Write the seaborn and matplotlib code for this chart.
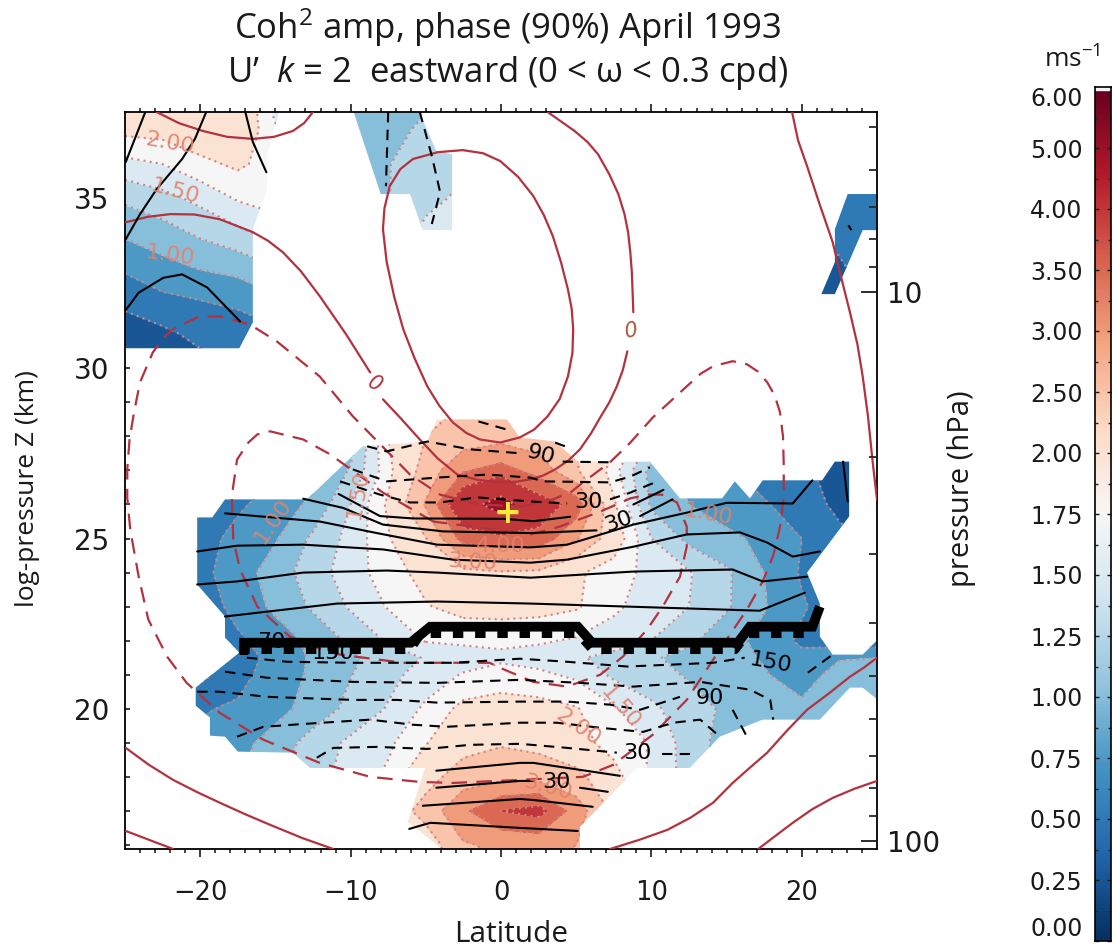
import numpy as np
import seaborn as sns
import matplotlib
matplotlib.use('Agg')
import matplotlib.pyplot as plt
from matplotlib.path import Path
from matplotlib.patches import PathPatch

sns.set_theme(style='ticks')
plt.rcParams['font.family'] = ['DejaVu Sans']
plt.rcParams['mathtext.fontset'] = 'custom'
plt.rcParams['mathtext.rm'] = 'Open Sans'
plt.rcParams['mathtext.it'] = 'Open Sans:italic'
plt.rcParams['mathtext.default'] = 'regular'
plt.rcParams['text.color'] = '#1a1a1a'

## DATA ##
levels = [0, .25, .5, .75, 1, 1.25, 1.5, 1.75, 2, 2.5, 3, 3.5, 4, 5, 6]
bar_labels = ['0.00', '0.25', '0.50', '0.75', '1.00', '1.25', '1.50', '1.75',
              '2.00', '2.50', '3.00', '3.50', '4.00', '5.00', '6.00']
lat_grid = [-25, -22.5, -20, -17.5, -15, -12.5, -10, -7.5, -5, -2.5, 0, 2.5, 5, 7.5, 10, 12.5, 15, 17.5, 20, 22.5, 25]
z_grid = [15, 16, 17, 18, 19, 20, 21, 21.5, 22, 23, 24, 25, 26, 27, 28, 29, 30, 31, 32, 33, 34, 35, 36, 37, 38]
# amplitude (m/s), one row per z_grid entry
amp = [
    [.6, .6, .6, .7, .8, 1.0, 1.2, 1.9, 2.1, 2.8, 2.9, 2.95, 2.8, 2.4, 2.0, 1.6, 1.3, 1.1, 1, 1, 1],
    [.6, .6, .6, .7, .8, 1.0, 1.2, 2.0, 2.2, 2.95, 3.1, 3.15, 3.0, 2.5, 2.0, 1.6, 1.3, 1.1, 1, 1, 1],
    [.6, .6, .7, .8, .9, 1.2, 1.7, 2.15, 2.7, 3.4, 4.0, 4.2, 3.25, 2.4, 2.0, 1.6, 1.3, 1.1, 1, 1, 1],
    [.7, .7, .9, 1.0, 1.2, 1.4, 1.6, 1.8, 2.3, 2.75, 2.85, 2.82, 2.65, 2.1, 1.7, 1.4, 1.2, 1.05, 1, 1, 1],
    [.7, .75, .8, .92, 1.1, 1.36, 1.55, 1.7, 1.98, 2.3, 2.45, 2.35, 2.1, 1.9, 1.73, 1.37, 1.15, 1.05, 1, 1, 1],
    [.7, .72, .73, .78, .92, 1.1, 1.32, 1.52, 1.8, 2.08, 2.13, 2.1, 2.02, 1.78, 1.55, 1.37, 1.2, 1.1, 1.06, 1.1, 1.1],
    [.4, .4, .42, .68, .85, 1.05, 1.24, 1.43, 1.6, 1.77, 1.85, 1.8, 1.7, 1.45, 1.35, 1.22, 1.12, 1.02, .88, 1.1, 1.15],
    [.4, .4, .42, .65, .82, 1.04, 1.2, 1.37, 1.52, 1.62, 1.7, 1.65, 1.53, 1.42, 1.28, 1.17, 1.08, .98, .82, .98, 1.0],
    [.45, .45, .5, .7, .88, 1.06, 1.3, 1.53, 1.77, 1.8, 1.8, 1.78, 1.72, 1.62, 1.5, 1.3, 1.1, .92, .7, .6, .6],
    [.45, .5, .58, .85, 1.05, 1.29, 1.53, 1.77, 1.98, 2.1, 2.12, 2.1, 2.03, 1.8, 1.62, 1.5, 1.28, 1.02, .78, .6, .5],
    [.45, .5, .68, .88, 1.12, 1.38, 1.63, 1.88, 2.1, 2.35, 2.45, 2.4, 2.05, 1.85, 1.68, 1.52, 1.29, 1.0, .72, .55, .45],
    [.4, .5, .62, .85, .98, 1.3, 1.58, 1.97, 2.48, 3.7, 3.85, 3.85, 3.05, 2.2, 1.5, 1.18, 1.05, .95, .75, .55, .45],
    [.35, .4, .5, .7, .88, 1.05, 1.5, 2.05, 3.05, 4.6, 5.4, 4.3, 3.8, 2.05, 1.2, 1.0, .9, .78, .6, .45, .4],
    [.3, .35, .4, .5, .7, .9, 1.28, 1.9, 2.7, 3.45, 3.7, 3.3, 2.55, 1.85, 1.15, .95, .8, .6, .55, .4, .35],
    [.2, .3, .3, .4, .5, .7, 1.1, 2.0, 2.5, 2.7, 2.8, 2.7, 2.5, 2.1, 1.5, 1.1, .7, .5, .4, .3, .3],
    [.1, .15, .3, .4, .5, .7, 1, 1.6, 2.3, 2.5, 2.6, 2.5, 2.2, 1.7, 1.2, .9, .6, .5, .4, .3, .3],
    [.15, .2, .4, .5, .55, .7, .9, 1, 1.2, 1.3, 1.3, 1.2, 1.1, 1, .9, .8, .6, .5, .4, .4, .4],
    [.35, .44, .57, .62, .68, .8, .9, 1, 1.1, 1.2, 1.2, 1.1, 1, .9, .8, .7, .6, .5, .4, .42, .45],
    [.57, .69, .75, .8, .95, 1, 1, 1, 1.1, 1.2, 1.2, 1.1, 1, .9, .8, .7, .6, .5, .4, .45, .55],
    [.8, .93, 1.03, 1.1, 1.25, 1.2, 1.05, 1.2, 1.4, 1.5, 1.5, 1.2, 1, .9, .8, .7, .6, .5, .42, .48, .6],
    [1.05, 1.15, 1.3, 1.44, 1.62, 1.4, 1.05, 1.3, 1.56, 1.65, 1.6, 1.3, 1, .9, .8, .7, .6, .55, .45, .55, .62],
    [1.3, 1.42, 1.57, 1.78, 1.85, 1.5, 1.08, 1.24, 1.43, 1.55, 1.5, 1.3, 1, .9, .8, .7, .6, .55, .5, .58, .65],
    [1.67, 1.75, 1.93, 2.05, 1.88, 1.5, 1.1, 1.24, 1.38, 1.45, 1.4, 1.3, 1, .9, .8, .7, .6, .55, .5, .58, .65],
    [2.07, 2.1, 2.2, 2.25, 1.8, 1.4, 1.12, 1.17, 1.3, 1.4, 1.3, 1.2, 1, .9, .8, .7, .6, .55, .5, .58, .65],
    [2.3, 2.35, 2.4, 2.4, 1.55, 1.2, 1.12, 1.1, 1.2, 1.3, 1.2, 1.1, 1, .9, .8, .7, .6, .55, .5, .58, .65],
]

# where coherence passes 90% (lat, z)
region_main = [(-20.2, 25.62), (-19.2, 25.62), (-18.35, 26.15), (-12.9, 26.15), (-9.2, 27.71), (-4.9, 27.85),
               (-4.25, 28.5), (.4, 28.5), (1.25, 27.97), (3.6, 27.85), (5.1, 27.26), (9.9, 27.26), (11.9, 26.18),
               (14.7, 26.18), (15.55, 26.68), (16.55, 26.18), (17.4, 26.71), (21.35, 26.71), (22.2, 27.26),
               (23.15, 27.26), (23.15, 25.65), (20.35, 24.0), (21.2, 23.09), (21.2, 22.12), (22.05, 21.59),
               (24.05, 21.59), (25.05, 22.03), (25.05, 20.26), (24.05, 20.62), (23.2, 20.62), (21.2, 19.68),
               (17.4, 19.68), (14.55, 19.18), (12.55, 18.26), (9.05, 18.26), (5.25, 16.53), (5.25, 15.85),
               (-3.85, 15.85), (-6.2, 16.68), (-5.05, 18.26), (-12.7, 18.26), (-13.85, 18.71), (-17.5, 18.74),
               (-18.35, 19.18), (-19.35, 19.21), (-19.35, 19.74), (-20.3, 20.09), (-20.3, 20.62), (-17.4, 21.65),
               (-18.35, 22.09), (-18.35, 22.71), (-20.2, 23.65)]
region_left = [(-25.05, 37.6), (-14.7, 37.6), (-15.55, 36.24), (-15.55, 35.26), (-16.5, 34.09), (-16.5, 31.35),
               (-17.4, 30.59), (-25.05, 30.59)]
region_top = [(-9.85, 37.6), (-8, 35.12), (-6.05, 35.12), (-5.2, 34.06), (-3.25, 34.06), (-3.25, 36.29),
              (-4.3, 36.38), (-5.5, 37.6)]
region_right = [(23.05, 35.12), (25.05, 35.12), (25.05, 34.06), (24.05, 34.06), (22.2, 32.18), (21.3, 32.18),
                (22.2, 33.12), (22.2, 34.09)]

# phase lines, solid
s1a = [(-10.8, 26.31), (-8.05, 25.66), (-5.85, 25.59), (.15, 25.58), (2.15, 25.51), (4.6, 25.64)]
s1b = [(8.8, 26.0), (10.8, 26.43)]
s2a = [(-13.15, 26.17), (-10.5, 25.9), (-7.85, 25.41), (-3.85, 25.21), (1.95, 25.16), (6.35, 25.24)]
s2b = [(9.25, 25.66), (11.4, 26.15)]
s3 = [(-18.35, 25.74), (-12.05, 25.5), (-8.25, 25.16), (-4.25, 24.82), (1.95, 24.74), (4.4, 24.82), (8.8, 25.41),
      (12.35, 25.76), (15.0, 26.05), (19.4, 26.03), (20.7, 26.71)]
s4 = [(-20.2, 24.62), (-17.55, 24.79), (-13.15, 24.82), (-7.85, 24.68), (-3.2, 24.38), (1.95, 24.29), (4.4, 24.38),
      (8.8, 24.76), (12.35, 25.12), (15.9, 25.18), (17.7, 24.88), (19.4, 24.47), (21.2, 24.62)]
s5 = [(-20.2, 23.65), (-17.55, 23.74), (-13.15, 24.0), (-7.6, 24.06), (-4.25, 24.0), (1.95, 23.85), (8.8, 24.03),
      (15.4, 24.09), (17.4, 23.74), (20.35, 23.88)]
s6 = [(-18.35, 22.71), (-10.9, 23.09), (-4.25, 23.15), (1.95, 23.09), (17.2, 22.88), (20.2, 23.41)]
s7 = [(22.75, 27.26), (23.05, 26.09)]
t1 = [(-4.3, 18.18), (1.25, 18.41), (2.15, 18.41), (7.9, 18.03)]
t2a = [(-4.3, 17.68), (1.25, 17.88), (2.2, 17.88)]
t2b = [(5.25, 17.68), (7.1, 17.56)]
t3 = [(-5.2, 17.15), (1.25, 17.35), (2.15, 17.32), (6.1, 17.12)]
t4 = [(-6.1, 16.47), (-4.7, 16.65), (1.25, 16.5), (5.1, 16.41)]
u1 = [(-23.65, 37.53), (-24.95, 36.06)]
u2 = [(-19.6, 37.53), (-20.35, 36.74), (-21.2, 36.15), (-22.9, 35.26), (-24, 34.53), (-24.95, 33.79)]
u3 = [(-17, 37.53), (-16.5, 36.65), (-15.6, 35.76)]
u4 = [(-24.95, 31.71), (-24.1, 32.22), (-22.45, 32.66), (-21.2, 32.76), (-19.55, 32.38), (-17.35, 31.38)]
phase_solid = [s1a, s1b, s2a, s2b, s3, s4, s5, s6, s7, t1, t2a, t2b, t3, t4, u1, u2, u3, u4]

# phase lines, dashed
d1 = [(-7.5, 37.53), (-7.65, 35.35)]
d2 = [(-5.4, 37.53), (-4.6, 36.24), (-4.05, 35.18), (-4.6, 34.24)]
d3 = [(23.1, 34.2), (23.3, 34.06)]
k0 = [(-1.5, 28.44), (.4, 28.2)]
k1 = [(-8.9, 27.71), (-7.6, 27.56), (-4.9, 27.85), (-2.05, 27.62), (1.4, 27.5)]
k1b = [(3.6, 27.82), (4.25, 27.71)]
k1c = [(4.1, 27.26), (7.25, 27.24)]
k2 = [(-9.85, 27.03), (-7.6, 26.68), (-4.25, 26.79), (-.9, 26.88), (1.95, 26.79), (2.8, 26.68), (7.25, 26.65),
      (8.6, 26.82), (9.9, 27.09)]
k3a = [(-10.7, 26.68), (-8.05, 26.29), (-6.05, 26.06), (-4.05, 26.06), (-1.6, 26.21), (1.95, 26.09), (4.4, 26.03)]
k3b = [(7.25, 26.15), (8.6, 26.35), (10.4, 26.68)]
m1 = [(-16.9, 21.5), (-14.2, 21.38), (-9.85, 21.35), (-6.5, 21.35), (-3.2, 21.35), (1.25, 21.47), (4.4, 21.38),
      (8.4, 21.24), (14.1, 21.35), (16.2, 21.5)]
m2 = [(-18.35, 21.09), (-15.55, 20.91), (-9.85, 20.79), (-4.25, 20.76), (1.25, 20.85), (5.25, 20.76), (8.8, 20.65),
      (13.25, 20.79), (16.55, 20.56), (17.9, 20.26), (18.1, 19.68)]
m3 = [(-20.2, 20.5), (-18.7, 20.5), (-15.55, 20.35), (-9.85, 20.26), (-6.9, 20.26), (-4.25, 20.18), (1.25, 20.21),
      (4.4, 20.21), (7.25, 20.12), (9.25, 19.97), (11.9, 20.35)]
m3b = [(15.4, 19.97), (16.35, 19.18)]
m4 = [(-17.55, 19.18), (-15.8, 19.47), (-12.9, 19.56), (-8.7, 19.68), (-5.85, 19.53), (-3.6, 19.47), (1.25, 19.59),
      (3.7, 19.59), (6.6, 19.44), (9.45, 19.32), (11.45, 19.59), (13.25, 19.68), (14.55, 19.18)]
m5 = [(-12.25, 18.56), (-11.15, 18.85), (-8.25, 18.88), (-4.9, 18.82), (-2.05, 18.94), (1.25, 18.97), (4.4, 18.85),
      (7.7, 18.71)]
m5b = [(10.7, 18.68), (12.75, 18.68)]
m6 = [(20.4, 21.06), (22.05, 21.59)]
phase_dashed = [d1, d2, d3, k0, k1, k1b, k1c, k2, k3a, k3b, m1, m2, m3, m3b, m4, m5, m5b, m6]

# the bunched up phase lines at the 180 wrap
band_top = [(-17.4, 21.94), (-6, 21.94), (-4.7, 22.41), (5.1, 22.41), (6.05, 21.94), (15.75, 21.94), (16.55, 22.41),
            (20.7, 22.41), (21.2, 23.0)]
band_teeth = [(-17.4, 21.71), (-6, 21.71), (-5.3, 22.18), (5.1, 22.18), (6.05, 21.71), (15.6, 21.71), (16.4, 22.18),
              (20.9, 22.18)]
band_end = [(-17.1, 22.03), (-17.1, 21.59)]

# background wind, solid
r1 = [(-7.85, 34.09), (-7.75, 34.7), (-7.4, 35.35), (-6.7, 35.85), (-5.85, 36.15), (-4.2, 36.35), (-2.55, 36.41),
      (-1.2, 36.32), (-.05, 36.09), (1.15, 35.62), (2.15, 35.06), (2.85, 34.5), (3.45, 33.88), (4.0, 33.1),
      (4.45, 32.32), (4.7, 31.75), (4.8, 31.15), (4.75, 30.45), (4.45, 29.76), (3.9, 29.1), (3.1, 28.59), (2.2, 28.2),
      (1.25, 27.97), (-.05, 27.82), (-1.4, 27.91), (-2.3, 28.1), (-3.2, 28.41), (-4.1, 28.9), (-4.9, 29.47),
      (-5.75, 30.3), (-6.5, 31.15), (-7.1, 32.1), (-7.6, 33.12), (-7.85, 34.09)]
r2a = [(3.1, 37.53), (4.0, 37.25), (4.9, 36.97), (5.75, 36.65), (6.45, 36.29), (7.2, 35.7), (7.8, 35.12), (8.2, 34.55),
       (8.45, 34.0), (8.6, 33.4), (8.7, 32.82), (8.8, 31.65)]
r2b = [(8.4, 30.5), (8.1, 29.95), (7.7, 29.47), (7.2, 29.0), (6.6, 28.56), (6.0, 28.1), (5.25, 27.62), (4.5, 27.3),
       (3.6, 27.03), (2.8, 26.85), (1.95, 26.74), (1, 26.67), (-.05, 26.65), (-1.5, 26.72), (-2.9, 26.88), (-4.2, 27.35),
       (-5.4, 27.91), (-6.6, 28.5), (-7.85, 29.09)]
r2c = [(-8.7, 29.88), (-10.3, 31.0), (-12.05, 32.12), (-13.3, 32.85), (-14.5, 33.41), (-15.5, 33.75), (-16.5, 34.0),
       (-18.7, 34.38), (-20.4, 34.52), (-22, 34.53), (-23.5, 34.45), (-24.95, 34.29)]
r2d = [(-22.9, 37.53), (-21.4, 37.2), (-19.8, 36.97), (-18.2, 36.8), (-16.5, 36.74), (-15.1, 36.8), (-13.85, 36.97),
       (-13.1, 37.2), (-12.5, 37.53)]
r3 = [(19.35, 37.53), (19.75, 36.7), (20.35, 35.94), (21.2, 34.8), (22.05, 33.71), (22.6, 32.7), (23.2, 31.65),
      (23.7, 30.7), (24.05, 29.76), (24.4, 28.59), (24.7, 27.3), (25, 26.15)]
r4 = [(25, 21.5), (24.1, 21.2), (23.2, 20.94), (21.8, 20.45), (20.35, 19.97), (19, 19.35), (17.7, 18.71), (16.5, 18.25),
      (15.4, 17.82), (14.1, 17.24), (12.6, 16.8), (11.05, 16.44), (9.2, 16.15), (7.25, 15.88)]
r5 = [(25, 17.88), (23.5, 17.65), (22.05, 17.38), (20.7, 17.05), (19.4, 16.65), (18.2, 16.25), (17.1, 15.88)]
r6 = [(-24.95, 18.85), (-23.4, 18.35), (-21.8, 17.91), (-20.2, 17.55), (-18.7, 17.24), (-17, 16.9), (-15.35, 16.59),
      (-13.2, 16.2), (-11.15, 15.88)]
r7 = [(-24.95, 16.41), (-21.8, 15.88)]
wind_solid = [r1, r2a, r2b, r2c, r2d, r3, r4, r5, r6, r7]

# background wind, dashed
r8 = [(1.45, 25.94), (3.45, 26.15), (4.7, 26.38), (5.45, 26.65), (7.25, 27.24), (8.6, 27.82), (10.1, 28.56),
      (12.35, 29.47), (13.3, 29.85), (14.1, 30.06), (15.4, 30.21), (16.35, 30.12), (17.1, 29.9), (17.7, 29.59),
      (18.2, 29.2), (18.55, 28.71), (18.75, 28), (18.8, 27.12), (18.8, 26.2), (18.55, 25.35), (18.1, 24.5),
      (17.4, 23.74), (16.35, 22.91), (14.55, 21.74), (12.35, 20.26), (10.1, 19.24), (7.45, 18.35),
      (5.45, 18.0), (1.25, 17.91), (-3.2, 17.82), (-5.4, 17.85), (-8.7, 18.0), (-12.05, 18.41), (-15.8, 19.09),
      (-18.7, 19.88), (-20.9, 20.76), (-22.2, 21.53), (-23.45, 22.62), (-24.1, 23.9), (-24.65, 25.26), (-24.85, 26.2),
      (-24.85, 27.03), (-24.7, 27.9), (-24.4, 28.71), (-24, 29.59), (-23.15, 30.47), (-22.35, 30.94), (-21.8, 31.15),
      (-20.2, 31.5), (-18.7, 31.53), (-16.7, 31.29), (-14.9, 30.79), (-12.05, 29.76), (-9.85, 28.59), (-6.05, 26.88),
      (-4.05, 26.29), (-1.4, 26.0), (1.45, 25.94)]
r9 = [(-4.5, 25.5), (-7.85, 26.35), (-11.35, 27.47), (-13.15, 27.91), (-15.35, 28.15), (-16.2, 28.06), (-16.8, 27.82),
      (-17.55, 27.32), (-17.9, 26.24), (-17.8, 24.97), (-17.35, 24.09), (-16.2, 23.0), (-14.05, 22.12), (-11.55, 21.68),
      (-10.7, 21.59), (-6.5, 21.35), (-3.2, 21.35), (-.75, 21.35), (-.05, 21.2), (2.15, 20.79), (4.4, 20.65), (6.6, 21.0),
      (8.1, 21.53), (9.7, 22.32), (10.75, 23.0), (11.9, 23.88), (12.35, 24.76), (12.35, 25.35), (11.7, 26.06),
      (10.7, 26.29), (9.7, 26.29), (8.6, 26.18), (6.6, 25.79), (3.9, 25.35), (1.95, 25.12), (-4.5, 25.5)]
wind_dashed = [r8, r9]

peak = (.4, 25.85)

# label, lat, z, rotation
amp_labels = [('2.00', -22, 36.6, -10), ('1.50', -21.7, 35.2, -15), ('1.00', -22, 33.3, -8), ('1.00', -15.2, 25.5, 55),
              ('1.50', -9.5, 26.3, 80), ('1.00', 13.75, 25.7, -10), ('3.00', -1.9, 24.3, -3), ('4.00', 0, 24.77, 0),
              ('1.50', 7.9, 20.06, -50), ('2.00', 5.1, 19.44, -35), ('3.00', 3.1, 17.68, -15)]
phase_labels = [('90', 2.65, 27.47, -15), ('30', 5.8, 26.06, 0), ('30', 7.8, 25.5, 20), ('150', 17.9, 21.35, -10),
                ('90', 13.9, 20.32, 0), ('30', 9.1, 18.7, 0), ('30', 3.7, 17.85, 0), ('70', -15.3, 21.97, 0),
                ('150', -11.2, 21.65, 0)]
wind_labels = [('0', 8.65, 31.1, 10, '#a8583a'), ('0', -8.4, 29.53, -30, '#b2323f')]

x_ticks = [-20, -10, 0, 10, 20]
y_ticks = [20, 25, 30, 35]
p_major = [10, 100]
p_minor = [5, 6, 7, 8, 9, 20, 30, 40, 50, 60, 70, 80, 90]

## PLOT ##
W, H = 1114, 949
fig = plt.figure(figsize=(W / 100, H / 100), dpi=100, facecolor='white')
ax = fig.add_axes([125 / W, 1 - 849 / H, 752 / W, 737 / H])
ax.set_facecolor('white')

cmap = sns.color_palette('RdBu_r', as_cmap=True)
n = len(levels) - 1
# each band takes the colour of its lower level
fill_colors = [cmap(i / n) for i in range(n)]
amp = np.array(amp)

# clip the fields to the significant regions
paths = []
for r in [region_main, region_left, region_top, region_right]:
    paths.append(Path(list(r) + [r[0]], closed=True))
clip_patch = PathPatch(Path.make_compound_path(*paths), transform=ax.transData, facecolor='none', edgecolor='none')
ax.add_patch(clip_patch)

filled = ax.contourf(lat_grid, z_grid, amp, levels=levels, colors=fill_colors, zorder=1)
filled.set_clip_path(clip_patch)
dots = ax.contour(lat_grid, z_grid, amp, levels=levels[2:], colors='#cf8585', linewidths=1.5,
                  linestyles=[(0, (1, 2))], zorder=2)
dots.set_clip_path(clip_patch)


def draw_line(pts, **kws):
    pts = np.array(pts)
    sns.lineplot(x=pts[:, 0], y=pts[:, 1], sort=False, estimator=None, ax=ax, legend=False, **kws)


for line in wind_solid:
    draw_line(line, color='#b2323f', linewidth=1.6, zorder=3)
for line in wind_dashed:
    draw_line(line, color='#b2323f', linewidth=1.6, linestyle=(0, (7, 4.2)), zorder=3)
for line in phase_solid:
    draw_line(line, color='black', linewidth=1.5, zorder=4)
for line in phase_dashed:
    draw_line(line, color='black', linewidth=1.5, linestyle=(0, (5, 3.5)), zorder=4)
draw_line(band_top, color='black', linewidth=7, solid_capstyle='butt', solid_joinstyle='miter', zorder=5)
draw_line(band_teeth, color='black', linewidth=5, linestyle=(0, (1.5, 1.7)), zorder=5)
draw_line(band_end, color='black', linewidth=6, solid_capstyle='butt', zorder=5)

ax.text(peak[0], peak[1], '+', color='#f7ea3c', fontsize=24, fontweight='bold', ha='center', va='center_baseline', zorder=6)

for txt, la, zz, rot in amp_labels:
    ax.text(la, zz, txt, color='#e0826e', fontsize=16, rotation=rot, ha='center', va='center', zorder=4, alpha=.9)
for txt, la, zz, rot in phase_labels:
    ax.text(la, zz, txt, color='black', fontsize=16, rotation=rot, ha='center', va='center', zorder=6)
for txt, la, zz, rot, col in wind_labels:
    ax.text(la, zz, txt, color=col, fontsize=15, rotation=rot, style='italic', ha='center', va='center', zorder=6)

ax.set_xlim(-25, 25)
ax.set_ylim(15.88, 37.53)
ax.set_xticks(x_ticks, [str(v).replace('-', '\u2212') for v in x_ticks])
ax.set_xticks(np.arange(-24, 25), minor=True)
ax.set_yticks(y_ticks)
ax.set_yticks(np.arange(16, 38), minor=True)
ax.tick_params(axis='x', which='major', direction='out', length=6, width=1.2, top=True, labelsize=18.5, pad=16, colors='#1a1a1a')
ax.tick_params(axis='x', which='minor', direction='out', length=3, width=1.2, top=True)
ax.tick_params(axis='y', which='major', direction='in', length=3.5, width=1.2, right=False, labelsize=20, pad=11, colors='#1a1a1a')
ax.tick_params(axis='y', which='minor', direction='in', length=3.5, width=1.2, right=False)
for sp in ax.spines.values():
    sp.set_linewidth(1.3)
    sp.set_color('black')
    sp.set_visible(True)
fig.text(511 / W, 1 - 935 / H, 'Latitude', fontfamily='Open Sans', fontsize=21.5, ha='center', va='center')
fig.text(28 / W, 1 - 489 / H, 'log-pressure Z (km)', rotation=90, fontfamily='Open Sans', fontsize=19, ha='center', va='center')

# pressure axis, scale height 7 km
ax2 = ax.twinx()
ax2.set_ylim(ax.get_ylim())
ax2.set_yticks([7 * np.log(1000 / p) for p in p_major], [str(p) for p in p_major])
ax2.set_yticks([7 * np.log(1000 / p) for p in p_minor], minor=True)
ax2.tick_params(axis='y', which='major', direction='in', length=11.5, width=1.3, labelsize=20, pad=7, colors='#1a1a1a')
ax2.tick_params(axis='y', which='minor', direction='in', length=6, width=1.3)
for sp in ax2.spines.values():
    sp.set_visible(False)
ax2.grid(False)
fig.text(961 / W, 1 - 489 / H, 'pressure (hPa)', rotation=90, fontfamily='Open Sans', fontsize=21, ha='center', va='center')

fig.text(508 / W, 1 - 28 / H, 'Coh$^{2}$ amp, phase (90%) April 1993', fontfamily='Open Sans', fontsize=25, ha='center', va='center')
fig.text(508 / W, 1 - 73 / H, 'U\u2019  $\\mathit{k}$ = 2  eastward (0 < \u03c9 < 0.3 cpd)', fontfamily='Open Sans', fontsize=25, ha='center', va='center')

# colour bar with evenly spaced levels
cax = fig.add_axes([1095 / W, 1 - 941 / H, 16 / W, 854 / H])
gradient = np.linspace(0, 1, 256)[:, None]
cax.imshow(gradient, cmap=cmap, origin='lower', aspect='auto', extent=[0, 1, 0, n])
cax.axhspan(n - .05, n, color='#f2f2f2', zorder=2)
cax.set_xticks([])
cax.set_yticks(range(n + 1), bar_labels)
cax.set_yticks(np.arange(.5, n), minor=True)
cax.tick_params(axis='y', which='major', direction='in', left=True, right=True, length=3, width=1, labelsize=17, pad=9, colors='#1a1a1a')
cax.tick_params(axis='y', which='minor', direction='in', left=True, right=True, length=2, width=1)
cax.get_yticklabels()[0].set_verticalalignment('bottom')
cax.get_yticklabels()[-1].set_verticalalignment('top')
for sp in cax.spines.values():
    sp.set_linewidth(1.2)
    sp.set_color('black')
    sp.set_visible(True)
fig.text(1072 / W, 1 - 60 / H, 'ms$^{-1}$', fontfamily='Open Sans', fontsize=19, ha='center', va='center')

fig.savefig('out.png', dpi=100)
plt.close(fig)
